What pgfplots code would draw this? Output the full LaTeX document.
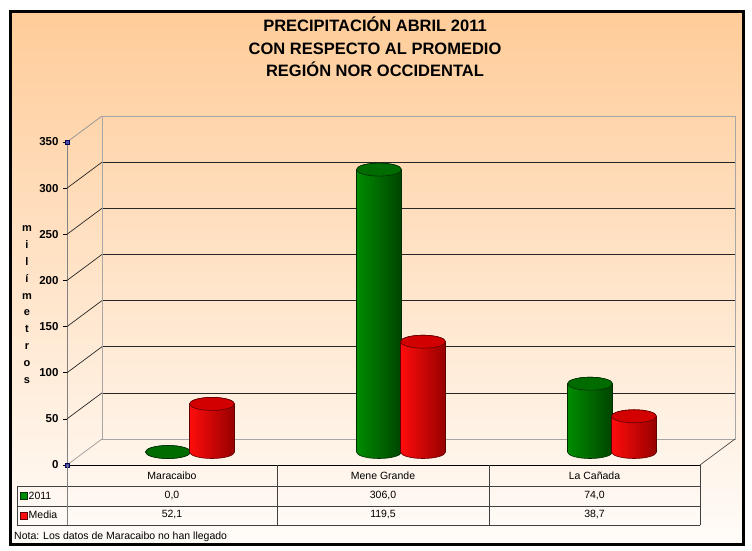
\documentclass[border=0pt]{standalone}
\usepackage{pgfplots}
\usepackage{pgfplotstable}
\pgfplotsset{compat=1.18}
\usepackage{fontspec}
\setmainfont{Liberation Sans}

\definecolor{gA}{RGB}{0,140,0}
\definecolor{gB}{RGB}{0,68,0}
\definecolor{gT}{RGB}{0,108,0}
\definecolor{gD}{RGB}{0,45,0}
\definecolor{rA}{RGB}{255,12,12}
\definecolor{rB}{RGB}{150,0,0}
\definecolor{rT}{RGB}{210,0,0}
\definecolor{rD}{RGB}{95,0,0}
\definecolor{bgtop}{RGB}{255,204,153}
\definecolor{bgbot}{RGB}{255,252,249}

\newcommand{\declarecyl}[5]{%
\pgfdeclareplotmark{#1}{%
 \pgfmathsetmacro{\cylh}{\cylval*0.922857}%
 \path[left color=#2, right color=#3, draw=#5, line width=0.6pt]
   (-22.5pt,0pt) -- (-22.5pt,-\cylh pt)
   arc[start angle=180, end angle=360, x radius=22.5pt, y radius=6.5pt]
   -- (22.5pt,0pt)
   arc[start angle=0, end angle=180, x radius=22.5pt, y radius=6.5pt] -- cycle;
 \path[fill=#4, draw=#5, line width=0.6pt]
   (0pt,0pt) ellipse[x radius=22.5pt, y radius=6.5pt];
}}
\declarecyl{cylG}{gA}{gB}{gT}{gD}
\declarecyl{cylR}{rA}{rB}{rT}{rD}

\pgfplotstableread[row sep=\\]{
x   v\\
0.5 0.0\\
1.5 306.0\\
2.5 74.0\\
}\dataA
\pgfplotstableread[row sep=\\]{
x   v\\
0.5 52.1\\
1.5 119.5\\
2.5 38.7\\
}\dataB

\begin{document}
\begin{tikzpicture}[x=1pt,y=1pt]
\useasboundingbox (0,0) rectangle (752,550);
\fill[white] (0,0) rectangle (752,550);
% frame with gradient
\shade[top color=bgtop, bottom color=bgbot] (10.5,5.5) rectangle (743.5,538.5);
\draw[black, line width=3pt] (10.5,5.5) rectangle (743.5,538.5);

% title
\node[align=center, font=\bfseries\fontsize{16.5}{22.5}\selectfont] at (375,503)
  {PRECIPITACIÓN ABRIL 2011\\CON RESPECTO AL PROMEDIO\\REGIÓN NOR OCCIDENTAL};

% y label
\node[align=center, font=\bfseries\fontsize{11}{16.8}\selectfont] at (27,245.5)
  {m\\i\\l\\í\\m\\e\\t\\r\\o\\s};

% back wall
\begin{axis}[at={(102pt,111pt)}, anchor=south west, scale only axis,
  width=633pt, height=323pt, xmin=0, xmax=3, ymin=0, ymax=350,
  xtick=\empty, ytick={50,100,...,300}, yticklabels={}, major tick length=0pt,
  ymajorgrids, grid style={black!85, line width=0.7pt},
  axis line style={gray!70, line width=0.8pt}]
\end{axis}

% front plane: y axis, floor line, diagonals
\begin{axis}[at={(67pt,85pt)}, anchor=south west, scale only axis,
  width=633pt, height=323pt, xmin=0, xmax=3, ymin=0, ymax=350,
  axis x line*=bottom, axis y line*=left, axis line style={-},
  x axis line style={black, line width=0.8pt},
  y axis line style={gray, line width=0.8pt},
  xtick=\empty, ytick={0,50,...,350},
  tick align=outside, major tick length=4pt, tick style={black, line width=0.6pt},
  /pgf/number format/assume math mode=true,
  yticklabel style={font=\bfseries\fontsize{11.5}{12}\selectfont, xshift=-1pt},
  clip=false]
\addplot[only marks, mark=square*, mark size=1.8pt, mark options={fill=blue!40!gray, draw=blue!30!black}]
  coordinates {(0,0) (0,350)};
\pgfplotsinvokeforeach{50,100,150,200,250,300}{
  \draw[black!85, line width=0.7pt] (axis cs:0,#1) -- ++(35pt,26pt);
}
\draw[gray!80, line width=0.7pt] (axis cs:0,0) -- ++(35pt,26pt);
\draw[gray!80, line width=0.8pt] (axis cs:0,350) -- ++(35pt,26pt);
\draw[gray!60!black, line width=0.7pt] (axis cs:3,0) -- ++(35pt,26pt);
\end{axis}

% cylinders
\begin{axis}[at={(84.5pt,98pt)}, anchor=south west, scale only axis,
  width=633pt, height=323pt, xmin=0, xmax=3, ymin=0, ymax=350,
  hide axis, clip=false]
\addplot[scatter, only marks, mark=cylG,
  visualization depends on={\thisrow{v} \as \cylval}]
  table[x expr=\thisrow{x}-0.104265, y=v] {\dataA};
\addplot[scatter, only marks, mark=cylR,
  visualization depends on={\thisrow{v} \as \cylval}]
  table[x expr=\thisrow{x}+0.104265, y=v] {\dataB};
\end{axis}

% data table
\begin{scope}[black!75, line width=0.8pt]
\draw (17,64) -- (700,64);
\draw (17,44) -- (700,44);
\draw (17,25) -- (700,25);
\draw (17,64) -- (17,25);
\draw (277,85) -- (277,25);
\draw (489,85) -- (489,25);
\draw (700,85) -- (700,25);
\end{scope}
\draw[gray, line width=0.8pt] (67,85) -- (67,25);
\begin{scope}[font=\fontsize{10.5}{12}\selectfont]
\node at (172,74.5) {Maracaibo};
\node at (383,74.5) {Mene Grande};
\node at (594.5,74.5) {La Cañada};
\node at (172,54.5) {0,0};
\node at (383,54.5) {306,0};
\node at (594.5,54.5) {74,0};
\node at (172,35) {52,1};
\node at (383,35) {119,5};
\node at (594.5,35) {38,7};
\fill[gA, draw=gD, line width=0.5pt] (20,50.5) rectangle (27,57.5);
\fill[rA, draw=rD, line width=0.5pt] (20,31) rectangle (27,38);
\node[anchor=west, inner sep=0pt] at (28.5,54.5) {2011};
\node[anchor=west, inner sep=0pt] at (28.5,35) {Media};
\node[anchor=west, inner sep=0pt] at (14,13) {Nota: Los datos de Maracaibo no han llegado};
\end{scope}
\end{tikzpicture}
\end{document}
